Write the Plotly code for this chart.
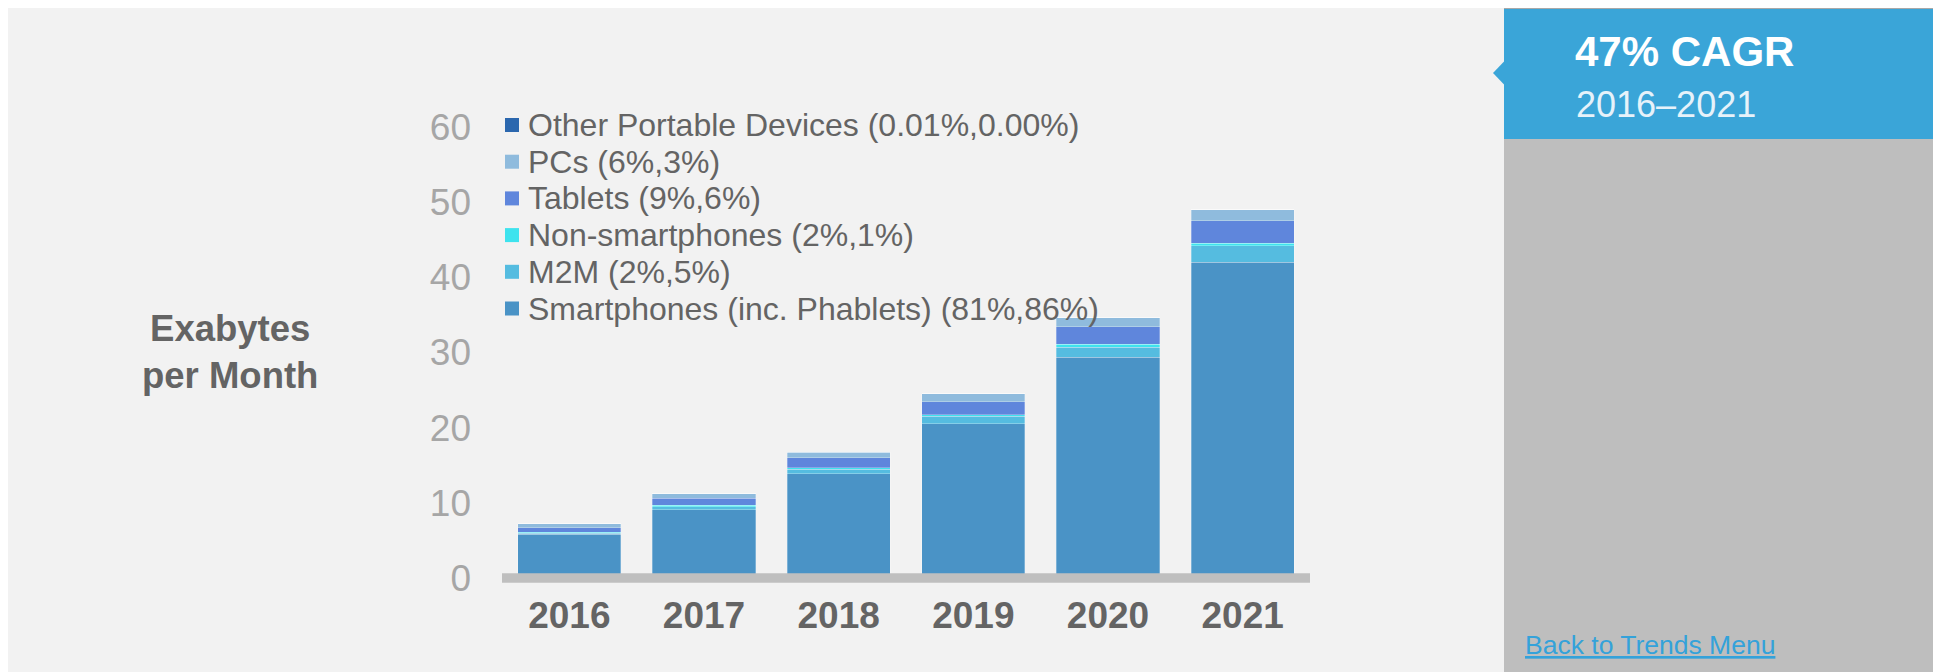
import plotly.graph_objects as go

# Canvas size in pixels
W, H = 1933, 672

# ---- data (exabytes per month) ----
years = ["2016", "2017", "2018", "2019", "2020", "2021"]
smartphones = [5.8, 9.1, 13.9, 20.5, 29.4, 42.0]
m2m = [0.15, 0.4, 0.55, 1.0, 1.3, 2.2]
non_smartphones = [0.15, 0.2, 0.25, 0.25, 0.4, 0.3]
tablets = [0.6, 0.9, 1.3, 1.7, 2.3, 3.0]
pcs = [0.5, 0.6, 0.7, 1.05, 1.2, 1.5]
other_portable = [0.001, 0.001, 0.001, 0.002, 0.003, 0.003]

series_labels = [
    "Smartphones (inc. Phablets) (81%,86%)",
    "M2M (2%,5%)",
    "Non-smartphones (2%,1%)",
    "Tablets (9%,6%)",
    "PCs (6%,3%)",
    "Other Portable Devices (0.01%,0.00%)",
]
series_values = [smartphones, m2m, non_smartphones, tablets, pcs, other_portable]
series_colors = ["#4A93C6", "#55BCE0", "#3EE3EE", "#5F86DC", "#8FBBDD", "#2B67AE"]

y_ticks = [0, 10, 20, 30, 40, 50, 60]

cagr_title = "47% CAGR"
cagr_period = "2016\u20132021"
y_title = "Exabytes<br>per Month"
link_text = "Back to Trends Menu"

FONT = "Liberation Sans, Arial, sans-serif"
TEXT_GRAY = "#646464"


def px(x):
    return x / W


def py(y):
    return 1 - y / H


fig = go.Figure()
for name, vals, col in zip(series_labels, series_values, series_colors):
    fig.add_trace(go.Bar(
        x=years, y=vals, name=name,
        marker=dict(color=col, line=dict(width=0.8, color="rgba(255,255,255,0.35)")),
        showlegend=False, hoverinfo="x+y+name",
    ))

shapes = []
annotations = []

# page backgrounds
shapes.append(dict(type="rect", xref="paper", yref="paper", layer="below",
                   x0=px(8), x1=px(1504), y0=py(672), y1=py(8),
                   fillcolor="#F2F2F2", line=dict(width=0)))
shapes.append(dict(type="rect", xref="paper", yref="paper", layer="below",
                   x0=px(1504), x1=px(1933), y0=py(139), y1=py(8),
                   fillcolor="#3AA5D8", line=dict(width=0)))
shapes.append(dict(type="rect", xref="paper", yref="paper", layer="below",
                   x0=px(1504), x1=px(1933), y0=py(672), y1=py(139),
                   fillcolor="#BEBEBE", line=dict(width=0)))
shapes.append(dict(type="line", xref="paper", yref="paper", layer="below",
                   x0=px(1504), x1=px(1933), y0=py(8.5), y1=py(8.5),
                   line=dict(width=1, color="#A8A8A8")))
# pointer on the callout box
shapes.append(dict(type="path", xref="paper", yref="paper", layer="below",
                   path=f"M {px(1504.5)},{py(61)} L {px(1493)},{py(73)} L {px(1504.5)},{py(85)} Z",
                   fillcolor="#3AA5D8", line=dict(width=0)))

# baseline band under the bars
shapes.append(dict(type="rect", xref="x", yref="y", layer="above",
                   x0=-0.5, x1=5.5, y0=-0.64, y1=0.64,
                   fillcolor="#BFBFBF", line=dict(width=0)))

# legend (top row = last stacked series)
leg_top = 125.0
leg_step = 36.7
for i, (name, col) in enumerate(zip(series_labels[::-1], series_colors[::-1])):
    cy = leg_top + i * leg_step
    shapes.append(dict(type="rect", xref="paper", yref="paper", layer="above",
                       x0=px(505), x1=px(519), y0=py(cy + 7), y1=py(cy - 7),
                       fillcolor=col, line=dict(width=0)))
    annotations.append(dict(text=name, xref="paper", yref="paper",
                            x=px(526), y=py(cy), xanchor="left", yanchor="middle",
                            showarrow=False,
                            font=dict(family=FONT, size=32, color=TEXT_GRAY)))

# vertical axis caption
annotations.append(dict(text=y_title, xref="paper", yref="paper",
                        x=px(230), y=py(352), xanchor="center", yanchor="middle",
                        showarrow=False, align="center",
                        font=dict(family=FONT, size=36.5, color=TEXT_GRAY, weight="bold")))

# callout text
annotations.append(dict(text=cagr_title, xref="paper", yref="paper",
                        x=px(1573), y=py(52), xanchor="left", yanchor="middle",
                        showarrow=False,
                        font=dict(family=FONT, size=42, color="#FFFFFF", weight="bold")))
annotations.append(dict(text=cagr_period, xref="paper", yref="paper",
                        x=px(1574), y=py(104), xanchor="left", yanchor="middle",
                        showarrow=False,
                        font=dict(family=FONT, size=36, color="#E6F2FA")))
annotations.append(dict(text=f"<u>{link_text}</u>", xref="paper", yref="paper",
                        x=px(1523), y=py(645), xanchor="left", yanchor="middle",
                        showarrow=False,
                        font=dict(family=FONT, size=26.5, color="#34A2DA")))

# y(v) = 578 - 7.517 v in page pixels; plot area spans 120..590 vertically
y_top_px, y_bot_px = 120, 590
zero_px, unit_px = 578.0, 7.517
y_range = [(zero_px - y_bot_px) / unit_px, (zero_px - y_top_px) / unit_px]

fig.update_layout(
    width=W, height=H,
    margin=dict(l=0, r=0, t=0, b=0, autoexpand=False),
    paper_bgcolor="#FFFFFF",
    plot_bgcolor="rgba(0,0,0,0)",
    barmode="stack",
    bargap=0.235,
    showlegend=False,
    shapes=shapes,
    annotations=annotations,
    xaxis=dict(
        domain=[px(502), px(1310)],
        range=[-0.5, 5.5],
        automargin=False,
        showgrid=False, zeroline=False, showline=False, ticks="",
        tickfont=dict(family=FONT, size=37, color=TEXT_GRAY, weight="bold"),
        ticklabelstandoff=0,
        fixedrange=True,
    ),
    yaxis=dict(
        domain=[py(y_bot_px), py(y_top_px)],
        range=y_range,
        tickvals=y_ticks,
        automargin=False,
        showgrid=False, zeroline=False, showline=False, ticks="",
        tickfont=dict(family=FONT, size=37, color="#A6A6A6"),
        ticklabelstandoff=30,
        fixedrange=True,
    ),
)

fig.write_html("out.html", config={"displayModeBar": False})
